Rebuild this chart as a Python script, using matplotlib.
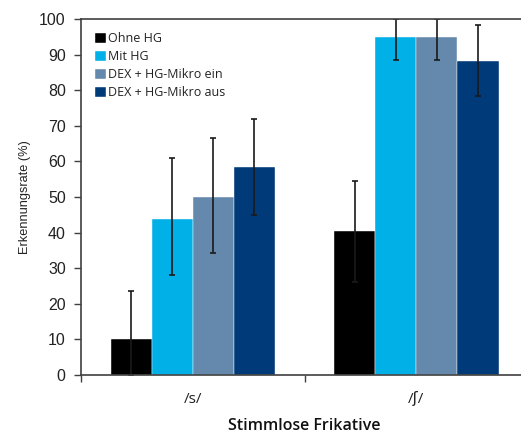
import numpy as np
import matplotlib
matplotlib.use('Agg')
import matplotlib.pyplot as plt

# Recognition rate per fricative and hearing condition
categories = ['/s/', '/ʃ/']
series = ['Ohne HG', 'Mit HG', 'DEX + HG-Mikro ein', 'DEX + HG-Mikro aus']
means = [
    [10.0, 40.5],
    [43.7, 95.0],
    [50.0, 95.0],
    [58.3, 88.3],
]
err_low = [
    [10.0, 14.5],
    [15.7, 6.5],
    [15.7, 6.5],
    [13.3, 9.8],
]
err_high = [
    [13.5, 14.1],
    [17.3, 5.0],
    [16.5, 5.0],
    [13.7, 10.1],
]
colors = ['#000000', '#00B0E6', '#6489AC', '#003A78']

sans = ['Open Sans', 'DejaVu Sans']

fig = plt.figure(figsize=(5.21, 4.34), dpi=100)
ax = fig.add_axes([0.1555, 0.136, 0.858, 0.820])

x = np.arange(len(categories))
width = 0.184
offsets = (np.arange(len(series)) - 1.5) * width

for i, name in enumerate(series):
    ax.bar(x + offsets[i], means[i], width, color=colors[i], label=name,
           edgecolor='white', linewidth=0.3)
    ax.errorbar(x + offsets[i], means[i], yerr=[err_low[i], err_high[i]],
                fmt='none', ecolor='#1a1a1a', elinewidth=1.2, capsize=2.5,
                capthick=1.2)

ax.set_xlim(-0.5, 1.5)
ax.set_ylim(0, 100)
ax.set_yticks(np.arange(0, 101, 10))
ax.tick_params(axis='y', direction='out', length=5, width=1, labelsize=11.5,
               colors='#404040', labelcolor='#222222', pad=6)
for lab in ax.get_yticklabels():
    lab.set_family('Liberation Sans')

# category separators as ticks, names as minor labels
ax.set_xticks([-0.5, 0.5, 1.5])
ax.set_xticklabels([])
ax.tick_params(axis='x', which='major', direction='out', length=5, width=1,
               colors='#404040')
ax.set_xticks(x, minor=True)
ax.set_xticklabels(categories, minor=True, fontsize=11, family=sans,
                   color='#222222')
ax.tick_params(axis='x', which='minor', length=0, pad=12)

for side in ['left', 'bottom', 'top']:
    ax.spines[side].set_color('#404040')
    ax.spines[side].set_linewidth(1.2)
ax.spines['right'].set_visible(False)

ax.set_ylabel('Erkennungsrate (%)', fontsize=9.2, family='Liberation Sans',
              color='#222222', labelpad=6)
ax.set_xlabel('Stimmlose Frikative', fontsize=11.5, family=sans,
              fontweight='semibold', color='#111111', labelpad=8)

leg = ax.legend(loc='upper left', bbox_to_anchor=(0.015, 0.985), frameon=False,
                prop={'family': sans, 'size': 9},
                handlelength=0.85, handleheight=0.85, handletextpad=0.15,
                labelspacing=0.4, borderaxespad=0.2)
for t in leg.get_texts():
    t.set_color('#222222')

fig.savefig('out.png', dpi=100)
